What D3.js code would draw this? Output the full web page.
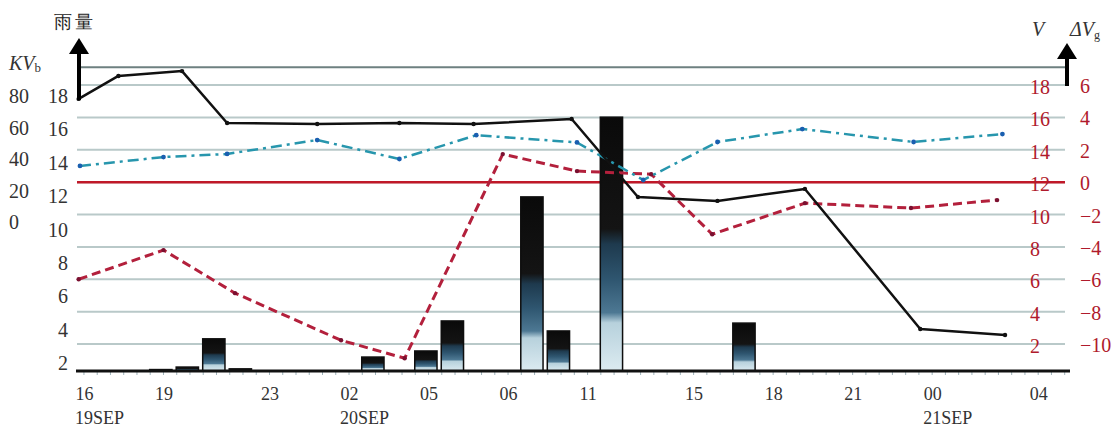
<!DOCTYPE html>
<html>
<head>
<meta charset="utf-8">
<script src="https://cdn.jsdelivr.net/npm/d3@7"></script>
<style>
  html, body { margin: 0; padding: 0; background: #fff; }
  svg { display: block; }
  text { font-family: "Liberation Serif", "DejaVu Serif", serif; }
</style>
</head>
<body>
<div id="chart"></div>
<script>
// ---------------- data ----------------
// hours counted from 19 SEP 00:00
const xTickHours  = [16, 19, 23, 26, 29, 32, 35, 39, 42, 45, 48, 52];
const xTickLabels = ["16", "19", "23", "02", "05", "06", "11", "15", "18", "21", "00", "04"];
const dateHours   = [16, 26, 48];
const dateLabels  = ["19SEP", "20SEP", "21SEP"];

// rainfall bars (hour, amount)
const rainHours  = [19, 20, 21, 22, 27, 29, 30, 33, 34, 36, 41];
const rainValues = [0.4, 1.1, 9.0, 0.6, 3.9, 5.6, 14.0, 48.7, 11.2, 71.0, 13.4];

// V (black solid)
const vHours  = [15.8, 17.3, 19.7, 21.4, 24.8, 27.9, 30.7, 34.4, 36.9, 39.9, 43.2, 47.55, 50.75];
const vValues = [17.14, 18.56, 18.86, 15.65, 15.59, 15.65, 15.59, 15.9, 11.08, 10.84, 11.58, 2.93, 2.56];

// KVb (teal dash-dot)
const kvbHours  = [15.85, 19.0, 21.4, 24.8, 27.9, 30.8, 34.6, 37.1, 39.9, 43.1, 47.3, 50.65];
const kvbValues = [13.0, 13.55, 13.74, 14.6, 13.43, 14.9, 14.45, 12.13, 14.48, 15.28, 14.48, 14.97];

// ΔVg (red dashed)
const dvgHours  = [15.8, 19.0, 21.7, 25.7, 28.1, 31.8, 34.6, 37.4, 39.7, 43.2, 47.2, 50.45];
const dvgValues = [-6.0, -4.2, -6.86, -9.77, -10.88, 1.73, 0.68, 0.49, -3.22, -1.3, -1.6, -1.11];

// axis tick values
const vTicks    = [2, 4, 6, 8, 10, 12, 14, 16, 18];
const dvgTicks  = [-10, -8, -6, -4, -2, 0, 2, 4, 6];
const rainTicks = [0, 20, 40, 60, 80];

// ---------------- layout ----------------
const W = 1116, H = 429;
const svg = d3.select("#chart").append("svg").attr("width", W).attr("height", H);

const x = d3.scaleLinear().domain([15.7, 53.2]).range([76, 1070]);
const yV = d3.scaleLinear().domain([2, 18]).range([344, 85]);
const yDV = d3.scaleLinear().domain([-10, 6]).range([344, 85]);
const yRain = d3.scaleLinear().domain([0, 80]).range([371, 85]);
// label placement scales for the left text columns
const yVLabel = d3.scaleLinear().domain([2, 18]).range([363, 96]);
const yRainLabel = d3.scaleLinear().domain([0, 80]).range([222, 96]);

const gridX0 = 77, gridX1 = 1065;

// defs: bar gradient and arrow
const defs = svg.append("defs");
const grad = defs.append("linearGradient").attr("id", "barGrad")
  .attr("x1", 0).attr("y1", 0).attr("x2", 0).attr("y2", 1);
[[0, "#0a0a0a"], [0.44, "#141414"], [0.50, "#1e3a4e"], [0.64, "#2f5670"],
 [0.77, "#4d7893"], [0.81, "#b7d1dc"], [1, "#dcebf1"]]
  .forEach(([o, c]) => grad.append("stop").attr("offset", o).attr("stop-color", c));

// gridlines
svg.append("g").selectAll("line").data(vTicks).join("line")
  .attr("x1", gridX0).attr("x2", gridX1)
  .attr("y1", d => yV(d)).attr("y2", d => yV(d))
  .attr("stroke", "#b9c9c9").attr("stroke-width", 2);

// top frame line
svg.append("line").attr("x1", 80).attr("x2", 1068)
  .attr("y1", yV(19.1)).attr("y2", yV(19.1))
  .attr("stroke", "#6e8080").attr("stroke-width", 2);

// red zero line for ΔVg
svg.append("line").attr("x1", gridX0).attr("x2", gridX1)
  .attr("y1", yDV(0)).attr("y2", yDV(0))
  .attr("stroke", "#c01828").attr("stroke-width", 2.5);

// bars
const barW = x(0.84) - x(0);
svg.append("g").selectAll("rect").data(rainHours.map((h, i) => ({h, v: rainValues[i]}))).join("rect")
  .attr("x", d => x(d.h - 0.1) - barW / 2)
  .attr("width", barW)
  .attr("y", d => yRain(d.v))
  .attr("height", d => yRain(0) - yRain(d.v))
  .attr("fill", "url(#barGrad)")
  .attr("stroke", "#0e0e0e").attr("stroke-width", 1.5);

// x axis baseline + minor ticks
const minor = d3.range(16, 53.01, 0.5);
svg.append("g").selectAll("line").data(minor).join("line")
  .attr("x1", d => x(d)).attr("x2", d => x(d))
  .attr("y1", yRain(0)).attr("y2", yRain(0) + 4)
  .attr("stroke", "#9fb3bb").attr("stroke-width", 1);
svg.append("line").attr("x1", 76).attr("x2", 1070)
  .attr("y1", yRain(0)).attr("y2", yRain(0))
  .attr("stroke", "#111").attr("stroke-width", 3);

// x labels
const xAxis = d3.axisBottom(x).tickValues(xTickHours)
  .tickFormat((d, i) => xTickLabels[i]).tickSize(0).tickPadding(0);
const gx = svg.append("g").attr("transform", `translate(0,${yRain(0) + 20})`).call(xAxis);
gx.select(".domain").remove();
gx.selectAll("text").attr("font-size", 18).attr("fill", "#333")
  .attr("font-family", "Liberation Serif").attr("dy", "0.5em");

svg.append("g").selectAll("text").data(dateHours).join("text")
  .attr("x", d => x(d) - 9).attr("y", 424)
  .attr("font-size", 18).attr("fill", "#333")
  .text((d, i) => dateLabels[i]);

// lines
function drawLine(hours, vals, ys, opts) {
  const data = hours.map((h, i) => [h, vals[i]]);
  const line = d3.line().x(d => x(d[0])).y(d => ys(d[1]));
  svg.append("path").datum(data).attr("d", line)
    .attr("fill", "none").attr("stroke", opts.color).attr("stroke-width", opts.width)
    .attr("stroke-dasharray", opts.dash || null)
    .attr("stroke-linejoin", "round");
  svg.append("g").selectAll("circle").data(data).join("circle")
    .attr("cx", d => x(d[0])).attr("cy", d => ys(d[1])).attr("r", opts.r)
    .attr("fill", opts.marker);
}
drawLine(dvgHours, dvgValues, yDV, {color: "#b3203c", width: 3, dash: "9,5", r: 2.2, marker: "#7a1030"});
drawLine(kvbHours, kvbValues, yV, {color: "#2796ad", width: 2.5, dash: "11,5,3,5", r: 2.4, marker: "#1a5fb0"});
drawLine(vHours, vValues, yV, {color: "#111", width: 2.5, dash: null, r: 2.2, marker: "#111"});

// left text columns
const gl = svg.append("g").attr("font-size", 20).attr("fill", "#333");
gl.selectAll("text.v").data(vTicks).join("text").attr("class", "v")
  .attr("x", 68).attr("y", d => yVLabel(d)).attr("dy", "0.35em")
  .attr("text-anchor", "end").text(d => d);
gl.selectAll("text.r").data(rainTicks).join("text").attr("class", "r")
  .attr("x", 9).attr("y", d => yRainLabel(d)).attr("dy", "0.35em")
  .text(d => d);

// right text columns
const gr = svg.append("g").attr("font-size", 20).attr("fill", "#b01a2c");
gr.selectAll("text.v").data(vTicks).join("text").attr("class", "v")
  .attr("x", 1030).attr("y", d => yV(d) + 2).attr("dy", "0.35em")
  .text(d => d);
gr.selectAll("text.d").data(dvgTicks).join("text").attr("class", "d")
  .attr("x", 1080).attr("y", d => yDV(d) + 1).attr("dy", "0.35em")
  .text(d => d < 0 ? "\u2212" + Math.abs(d) : d);

// arrows
function arrow(xc, yBottom, yTop) {
  svg.append("line").attr("x1", xc).attr("x2", xc).attr("y1", yBottom).attr("y2", yTop + 12)
    .attr("stroke", "#000").attr("stroke-width", 4);
  svg.append("path")
    .attr("d", `M${xc - 10},${yTop + 16} L${xc},${yTop} L${xc + 10},${yTop + 16} Z`)
    .attr("fill", "#000");
}
arrow(79, 100, 38);
arrow(1067, 86, 43);

// axis titles
svg.append("text").attr("x", 54).attr("y", 28)
  .attr("font-family", "Noto Sans CJK SC").attr("font-size", 18).attr("font-weight", 500)
  .attr("letter-spacing", 3).attr("fill", "#222").text("雨量");

const kv = svg.append("text").attr("x", 9).attr("y", 70).attr("font-size", 20).attr("fill", "#333");
kv.append("tspan").attr("font-style", "italic").text("KV");
kv.append("tspan").attr("font-size", 13).attr("dy", 2).text("b");

svg.append("text").attr("x", 1032).attr("y", 36).attr("font-size", 20)
  .attr("font-style", "italic").attr("fill", "#333").text("V");
const dv = svg.append("text").attr("x", 1070).attr("y", 36).attr("font-size", 20).attr("fill", "#333");
dv.append("tspan").attr("font-style", "italic").text("\u0394V");
dv.append("tspan").attr("font-size", 12).attr("dy", 3).text("g");
</script>
</body>
</html>
